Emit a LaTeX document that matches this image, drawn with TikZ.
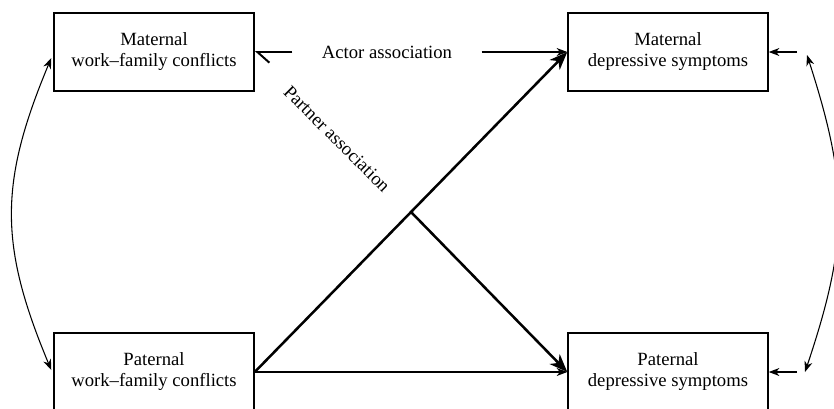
\documentclass[tikz,border=0pt]{standalone}
\usepackage{fontspec}
\setmainfont{Liberation Serif}
\usetikzlibrary{arrows.meta,positioning,calc}

\tikzset{
  varbox/.style={draw, line width=1.1pt, minimum width=150pt, minimum height=58.5pt,
    inner sep=0pt, align=center, font=\fontsize{14}{15.75}\selectfont},
  thinarrow/.style={-{Stealth[length=8pt,width=6pt,inset=2.5pt]}, line width=0.8pt},
  thickarrow/.style={-{Stealth[length=13.5pt,width=10.5pt,inset=4pt]}, line width=1.9pt},
  bothways/.style={{Stealth[length=8pt,width=6pt,inset=2.5pt]}-{Stealth[length=8pt,width=6pt,inset=2.5pt]}, line width=0.8pt},
  halfbarb/.style={-{Straight Barb[left,length=9pt,width=16pt,line width=1.5pt]}, line width=0.8pt},
}

\begin{document}
\begin{tikzpicture}[x=0.75pt,y=-0.75pt]
  \clip (0,0) rectangle (834,408);

  % Work-family conflicts (left) and depressive symptoms (right)
  \node[varbox] (mwfc) at (154,52) {Maternal\\work--family conflicts};
  \node[varbox] (mds) at (668,52) {Maternal\\depressive symptoms};
  \node[varbox] (pwfc) at (154,372) {Paternal\\work--family conflicts};
  \node[varbox] (pds) at (668,372) {Paternal\\depressive symptoms};

  % Actor association
  \node[font=\fontsize{14}{15.75}\selectfont, inner xsep=22pt] (actor) at (387,52) {Actor association};
  \draw[thinarrow] (actor.east) -- (mds.west);
  \draw[halfbarb] (actor.west) -- (mwfc.east);

  % Partner association
  \node[font=\fontsize{14}{15.75}\selectfont, rotate=-45] (partner) at (337,139) {Partner association};
  \draw[thickarrow] (pwfc.east) -- coordinate[pos=0.5] (split) (mds.west);
  \draw[thickarrow] (split) -- (pds.west);
  \draw[thinarrow] (pwfc.east) -- (pds.west);

  % Covariances
  \draw[bothways] ([shift={(-2,6)}]mwfc.west) .. controls (-1,183) and (-1,245) .. ([shift={(-2,-2)}]pwfc.west);
  \coordinate (cov1) at (807,55);
  \coordinate (cov2) at (805,372);
  \draw[bothways] (cov1) .. controls (849,185) and (849,241) .. (cov2);

  % Residuals
  \coordinate (res1) at (797,52);
  \coordinate (res2) at (797,372);
  \draw[thinarrow] (res1) -- (mds.east);
  \draw[thinarrow] (res2) -- (pds.east);
\end{tikzpicture}
\end{document}
